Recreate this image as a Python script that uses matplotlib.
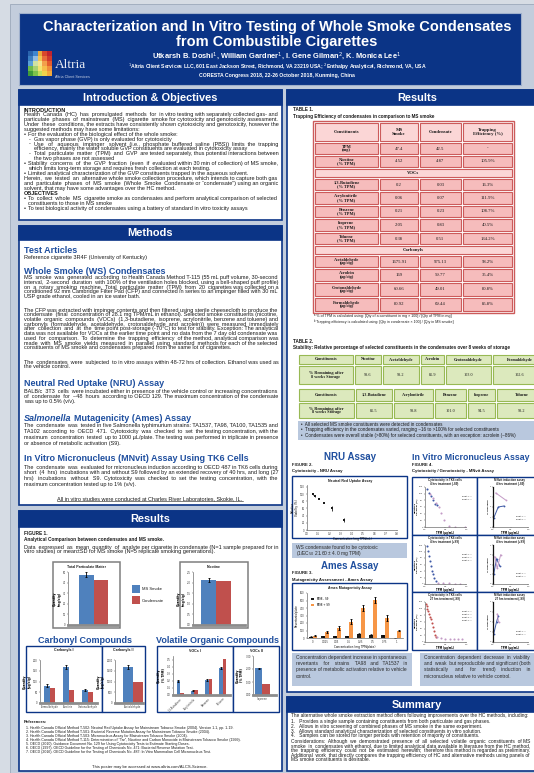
import numpy as np
import matplotlib
matplotlib.use("Agg")
import matplotlib.pyplot as plt
from matplotlib.patches import Rectangle
from matplotlib.font_manager import FontProperties

# ---------------- data ----------------
fig1_series = ["MS Smoke", "Condensate"]
tpm_mg = [47.4, 42.5]
tpm_sd = [2.2, 0.0]
nicotine_mg = [2.14, 2.07]
nicotine_sd = [0.09, 0.0]
nicotine_pct_tpm = [4.52, 4.87]

carb1_names = ["Formaldehyde", "Acrolein", "Crotonaldehyde"]
carb1_ms = [80.92, 169.0, 60.66]
carb1_ms_sd = [6.0, 9.0, 4.0]
carb1_cond = [69.44, 59.77, 49.01]
carb1_te = [85.8, 35.4, 80.8]

carb2_names = ["Acetaldehyde"]
carb2_ms = [1675.91]
carb2_ms_sd = [75.0]
carb2_cond = [975.13]
carb2_te = [58.2]

voc1_names = ["1,3-Butadiene", "Acrylonitrile", "Benzene", "Toluene"]
voc1_ms = [0.20, 0.06, 0.21, 0.38]
voc1_ms_sd = [0.01, 0.005, 0.01, 0.02]
voc1_cond = [0.03, 0.07, 0.23, 0.51]
voc1_te = [16.3, 111.9, 108.7, 134.2]

voc2_names = ["Isoprene"]
voc2_ms = [2.05]
voc2_ms_sd = [0.06]
voc2_cond = [0.83]
voc2_te = [40.5]

nicotine_te = 105.9

stab1_names = ["Nicotine", "Acetaldehyde", "Acrolein", "Crotonaldehyde", "Formaldehyde"]
stab1_vals = [98.6, 98.2, 85.9, 103.0, 102.6]
stab2_names = ["1,3-Butadiene", "Acrylonitrile", "Benzene", "Isoprene", "Toluene"]
stab2_vals = [85.5, 98.8, 101.0, 94.5, 98.2]

nru_conc = [0.05, 0.07, 0.11, 0.15, 0.22, 0.33]
nru_viab = [99, 95, 87, 76, 60, 27]
nru_sd = [3, 3, 2, 2, 8, 5]

ames_conc = ["0", "0.025", "0.05", "0.1", "0.25", "0.5", "0.75", "1"]
ames_minus_s9 = [18, 22, 24, 22, 60, 42, 38, 0]
ames_minus_sd = [4, 4, 5, 5, 10, 8, 8, 0]
ames_plus_s9 = [30, 78, 130, 220, 395, 505, 262, 100]
ames_plus_sd = [5, 10, 25, 30, 40, 40, 40, 12]

cyto1_e1_x = [0.05, 0.10, 0.14, 0.19, 0.25, 0.29]
cyto1_e1_y = [114, 103, 93, 81, 69, 65]
cyto1_e2_x = [0.12, 0.19, 0.27, 0.33, 0.39, 0.47, 0.58, 0.74, 0.97]
cyto1_e2_y = [99, 86, 71, 59, 41, 21, 3, 1, 0]
cyto2_e1_x = [0.06, 0.085, 0.10, 0.12, 0.15, 0.17, 0.19, 0.23, 0.27]
cyto2_e1_y = [117, 102, 86, 71, 55, 40, 30, 20, 9]
cyto2_e2_x = [0.31, 0.43, 0.58, 0.74, 0.85]
cyto2_e2_y = [3, 2, 2, 1, 1]
cyto3_e1_x = [0.02, 0.04, 0.06, 0.08, 0.10, 0.12, 0.14, 0.16, 0.19, 0.22, 0.25, 0.28]
cyto3_e1_y = [115, 108, 100, 92, 84, 76, 68, 58, 46, 34, 22, 14]
cyto3_e2_x = [0.30, 0.40, 0.50, 0.60, 0.70, 0.80, 0.90]
cyto3_e2_y = [15, 12, 10, 9, 10, 8, 9]

mn1_e1_x, mn1_e1_y = [0.02, 0.15, 0.31], [0.9, 2.0, 2.1]
mn1_e2_x, mn1_e2_y = [0.08, 0.36], [3.4, 2.7]
mn2_e1_x, mn2_e1_y = [0.02, 0.10, 0.20], [1.0, 2.6, 1.8]
mn2_e2_x, mn2_e2_y = [0.05, 0.12, 0.22], [2.8, 1.6, 3.0]
mn3_e1_x, mn3_e1_y = [0.02, 0.10, 0.15], [0.8, 2.0, 2.6]
mn3_e2_x, mn3_e2_y = [0.12, 0.16], [2.8, 2.0]

# ---------------- canvas helpers ----------------
W, H = 534, 773
fig = plt.figure(figsize=(W / 100, H / 100), dpi=100)
fig.patch.set_facecolor('#d6dce4')
R = fig.canvas.get_renderer()

SANS = ['Liberation Sans', 'DejaVu Sans']
SERIF = ['Liberation Serif', 'DejaVu Serif']
NAVY = '#0b3486'
HEAD = '#1f4f9f'
LIGHTBOX = '#b9c8de'
C_BLUE = '#4f81bd'
C_RED = '#c0504d'
C_ORANGE = '#f79646'
TXT = '#1a1a1a'
BODY = 3.95


def X(x):
    return x / W


def Y(y):
    return 1 - y / H


def box(x0, y0, x1, y1, fc='none', ec='none', lw=0.0, z=1):
    fig.add_artist(Rectangle((X(x0), Y(y1)), (x1 - x0) / W, (y1 - y0) / H,
                             transform=fig.transFigure, facecolor=fc,
                             edgecolor=ec, linewidth=lw, zorder=z))


def txt(x, y, s, size, color=TXT, bold=False, ha='left', va='baseline',
        family=SANS, italic=False, z=6, **kw):
    return fig.text(X(x), Y(y), s, fontsize=size, color=color,
                    fontweight='bold' if bold else 'normal',
                    fontstyle='italic' if italic else 'normal',
                    ha=ha, va=va, family=family, zorder=z, **kw)


def wpx(s, fp):
    return R.get_text_width_height_descent(s, fp, ismath=False)[0]


def para(x, y, width, s, size=BODY, lh=4.7, bold=False, color=TXT,
         justify=True, family=SANS):
    """Wrap text to a pixel width; justified lines are padded with spaces."""
    fp = FontProperties(family=family, size=size,
                        weight='bold' if bold else 'normal')
    sp = wpx('a a', fp) - wpx('aa', fp)
    lines, cur, cw = [], [], 0.0
    for w in s.split():
        ww = wpx(w, fp)
        add = ww if not cur else cw + sp + ww
        if cur and add > width:
            lines.append(cur)
            cur, cw = [w], ww
        else:
            cur.append(w)
            cw = add
    if cur:
        lines.append(cur)
    for i, ln in enumerate(lines):
        yy = y + i * lh
        if justify and i < len(lines) - 1 and len(ln) > 1:
            natural = wpx(' '.join(ln), fp)
            n = len(ln) - 1
            k = max(0, int(round((width - natural) / sp)))
            base, rem = divmod(k, n)
            parts = []
            for j, w in enumerate(ln):
                parts.append(w)
                if j < n:
                    parts.append(' ' * (1 + base + (1 if j < rem else 0)))
            line = ''.join(parts)
        else:
            line = ' '.join(ln)
        fig.text(X(x), Y(yy), line, fontproperties=fp, color=color,
                 va='baseline', zorder=6)
    return y + len(lines) * lh


def bullet(x, y, width, s, mark='\u2022', indent=4.5, **kw):
    txt(x, y, mark, kw.get('size', BODY), color=kw.get('color', TXT))
    return para(x + indent, y, width - indent, s, **kw)


def panel(x0, y0, x1, y1, title, hh=15, tsize=7.9):
    box(x0, y0, x1, y1, fc='white', ec=NAVY, lw=1.2, z=1)
    box(x0, y0, x1, y0 + hh, fc=NAVY, ec=NAVY, lw=1.2, z=2)
    txt((x0 + min(x1, 547)) / 2, y0 + hh / 2 + 0.5, title, tsize,
        color='white', bold=True, ha='center', va='center')


def axes_px(x0, y0, x1, y1):
    ax = fig.add_axes([X(x0), Y(y1), (x1 - x0) / W, (y1 - y0) / H])
    ax.set_zorder(20)
    ax.set_facecolor('none')
    for s in ('top', 'right'):
        ax.spines[s].set_visible(False)
    ax.spines['left'].set_color('#6f6f6f')
    ax.spines['left'].set_linewidth(0.5)
    ax.spines['bottom'].set_color('#6f6f6f')
    ax.spines['bottom'].set_linewidth(0.5)
    ax.tick_params(labelsize=1.8, length=1.0, width=0.3, pad=0.6,
                   colors='#333333')
    return ax


# ---------------- background & banner ----------------
box(10, 4, 560, 800, fc='#c3cddc', ec='#9ca8ba', lw=0.6, z=0)
box(19, 13, 521, 85, fc=NAVY, ec='#9fb0cc', lw=0.8, z=1)

txt(277, 30.5, "Characterization and In Vitro Testing of Whole Smoke Condensates",
    10.5, color='white', bold=True, ha='center')
txt(277, 46, "from Combustible Cigarettes", 10.5, color='white', bold=True,
    ha='center')
txt(277, 58.5, "Utkarsh B. Doshi$^{1}$, William Gardner$^{1}$, I. Gene Gilman$^{2}$, K. Monica Lee$^{1}$",
    5.4, color='white', bold=True, ha='center')
txt(277, 69, "$^{1}$Altria Client Services LLC, 601 East Jackson Street, Richmond, VA 23219 USA; "
    "$^{2}$Enthalpy Analytical, Richmond, VA, USA", 3.7, color='white',
    bold=True, ha='center')
txt(277, 77.5, "CORESTA Congress 2018, 22-26 October 2018, Kunming, China", 3.7,
    color='white', bold=True, ha='center')

# Altria mosaic mark
mosaic = [['#2a63ad', '#3f86cf', '#e9a83d', '#d9472c', '#bf2430'],
          ['#3a7fc3', '#92bbe2', '#f2c552', '#e96d3b', '#cf3a2c'],
          ['#59a0d8', '#cfe2a2', '#f6e48e', '#f29f4b', '#e35c2d'],
          ['#6dbb4a', '#a9d172', '#f3e46e', '#f6bc4b', '#ef8d3b'],
          ['#3f9a3a', '#7dc14b', '#c5dd5b', '#f1d24b', '#f2aa3b']]
for r, row in enumerate(mosaic):
    for c, col in enumerate(row):
        box(28 + c * 4.8, 51 + r * 5.0, 28 + (c + 1) * 4.8, 51 + (r + 1) * 5.0,
            fc=col, z=3)
txt(55, 68, "Altria", 9.6, color='#e8ecf4', family=SERIF)
txt(55, 77.5, "Altria Client Services", 2.7, color='#c9d2e4')

# ---------------- left column ----------------
LX0, LX1 = 19, 282
panel(LX0, 90, LX1, 220, "Introduction & Objectives")
tx, tw = 24, 254
LH = 4.75
GAP = 0.8
y = 111.5
txt(tx, y, "INTRODUCTION", BODY, bold=True)
y = para(tx, y + LH, tw,
         "Health Canada (HC) has promulgated methods for in vitro testing with separately "
         "collected gas- and particulate phases of mainstream (MS) cigarette smoke for "
         "cytotoxicity and genotoxicity assessment. Under these conditions, the extracts have "
         "consistently shown cytotoxicity and genotoxicity, however the suggested methods may "
         "have some limitations:", lh=LH)
y = bullet(tx, y + GAP, tw, "For the evaluation of the biological effect of the whole smoke:", lh=LH)
y = bullet(tx + 5, y, tw - 5, "Gas vapor phase (GVP) is only evaluated for cytotoxicity",
           mark='-', lh=LH)
y = bullet(tx + 5, y, tw - 5,
           "Use of aqueous impinger solvent (i.e., phosphate buffered saline (PBS)) limits the trapping "
           "efficiency, mainly the water soluble GVP constituents are evaluated in cytotoxicity assay",
           mark='-', lh=LH)
y = bullet(tx + 5, y, tw - 5,
           "Total particulate matter (TPM) and GVP are tested separately, thus potential interactions "
           "between the two phases are not assessed",
           mark='-', lh=LH)
y = bullet(tx, y + GAP, tw,
           "Stability concerns of the GVP fraction (even if evaluated within 30 min of collection) of MS "
           "smoke, which limits long-term storage and requires fresh collection at each testing.", lh=LH)
y = bullet(tx, y, tw,
           "Limited analytical characterization of the GVP constituents trapped in the aqueous solvent.", lh=LH)
y = para(tx, y + GAP, tw,
         "Herein, we tested an alternative whole smoke collection procedure, which intends to capture "
         "both gas and particulate phases of MS smoke (Whole Smoke Condensate or \u201ccondensate\u201d) "
         "using an organic solvent, that may have some advantages over the HC method.", lh=LH)
txt(tx, y + GAP, "OBJECTIVES", BODY, bold=True)
y = bullet(tx, y + GAP + LH, tw,
           "To collect whole MS cigarette smoke as condensates and perform analytical comparison of "
           "selected constituents to those in MS smoke", lh=LH)
bullet(tx, y, tw, "To test biological activity of condensates using a battery of standard in vitro toxicity assays",
       lh=LH)

panel(LX0, 226, LX1, 505, "Methods", hh=14)
txt(tx, 253, "Test Articles", 6.5, color=HEAD, bold=True)
txt(tx, 258.5, "Reference cigarette 3R4F (University of Kentucky)", BODY)
txt(tx, 273.5, "Whole Smoke (WS) Condensates", 6.5, color=HEAD, bold=True)
para(tx, 279, tw,
     "MS smoke was generated according to Health Canada Method T-115 (55 mL puff volume, 30-second "
     "interval, 2-second duration with 100% of the ventilation holes blocked, using a bell-shaped puff "
     "profile) on a rotary smoking machine. Total particulate matter (TPM) from 20 cigarettes was "
     "collected on a conditioned 92 mm Cambridge Filter Pad (CFP) and connected in series to an impinger "
     "filled with 30 mL USP grade ethanol, cooled in an ice water bath.", lh=4.75)
para(tx, 311.5, tw,
     "The CFP was extracted with impinger contents and then filtered using sterile cheesecloth to produce "
     "the condensate (final concentration of 28.1 mg TPM/mL in ethanol). Selected smoke constituents "
     "(nicotine, volatile organic compounds (VOCs) (1,3-butadiene, isoprene, acrylonitrile, benzene and "
     "toluene) and carbonyls (formaldehyde, acetaldehyde, crotonaldehyde and acrolein)) were measured "
     "immediately after collection and at the time point post-storage (-70\u00b0C) to test for "
     "stability. Exception: The analytical data was not available for VOCs at the earlier time point "
     "and no data from the 7 day old condensate was used for comparison. To determine the trapping "
     "efficiency of the method, analytical comparison was made with MS smoke yields measured in parallel "
     "using standard methods for each of the selected constituents of MS smoke and condensates "
     "prepared from the same lot of cigarettes.", lh=4.75)
para(tx, 363.5, tw,
     "The condensates were subjected to in vitro assays within 48-72 hrs of collection. Ethanol was used "
     "as the vehicle control.", lh=4.75)
txt(tx, 386.5, "Neutral Red Uptake (NRU) Assay", 6.5, color=HEAD, bold=True)
para(tx, 392.5, tw,
     "BALB/c 3T3 cells were incubated either in presence of the vehicle control or increasing "
     "concentrations of condensate for ~48 hours according to OECD 129. The maximum concentration of "
     "the condensate was up to 0.5% (v/v).", lh=5.4)
fig.text(X(tx), Y(421), "Salmonella", fontsize=6.5, color=HEAD, fontweight='bold',
         fontstyle='italic', family=SANS, va='baseline', zorder=6)
fp_h = FontProperties(family=SANS, size=6.5, weight='bold', style='italic')
txt(tx + wpx("Salmonella ", fp_h), 421, "Mutagenicity (Ames) Assay", 6.5, color=HEAD, bold=True)
para(tx, 427, tw,
     "The condensate was tested in five Salmonella typhimurium strains: TA1537, TA98, TA100, TA1535 and "
     "TA102 according to OECD 471. Cytotoxicity was checked to set the testing concentration, with the "
     "maximum concentration tested up to 1000 \u00b5L/plate. The testing was performed in triplicate "
     "in presence or absence of metabolic activation (S9).", lh=6.0)
txt(tx, 461.5, "In Vitro Micronucleus (MNvit) Assay Using TK6 Cells", 6.5, color=HEAD, bold=True)
para(tx, 468.5, tw,
     "The condensate was evaluated for micronucleus induction according to OECD 487 in TK6 cells "
     "during short (4 hrs) incubations with and without S9 followed by an extended recovery of 40 hrs, "
     "and long (27 hrs) incubations without S9. Cytotoxicity was checked to set the testing "
     "concentration, with the maximum concentration tested up to 1% (v/v).", lh=6.0)
txt(150, 500, "All in vitro studies were conducted at Charles River Laboratories, Skokie, IL.",
    BODY, ha='center')
fig.add_artist(plt.Line2D([X(57), X(243)], [Y(501.2), Y(501.2)], color=TXT, lw=0.4,
                          transform=fig.transFigure, zorder=6))

panel(LX0, 511, LX1, 771, "Results", hh=16)
txt(tx, 535, "FIGURE 1.", 3.4, bold=True)
txt(tx, 541, "Analytical Comparison between condensates and MS smoke.", 3.4, bold=True)
para(tx, 548.5, tw,
     "Data expressed as mean quantity of analyte per cigarette in condensate (N=1 sample prepared for in "
     "vitro studies) or mean\u00b1SD for MS smoke (N=5 replicate smoking generations).", lh=4.6)


def simple_bars(ax, ms, cond, ms_sd, xlim, width):
    idx = np.arange(len(ms))
    ax.bar(idx - width / 2, ms, width=width, color=C_BLUE, zorder=2,
           yerr=ms_sd, error_kw=dict(elinewidth=0.6, capsize=0.9, capthick=0.6,
                                    ecolor='black'))
    ax.bar(idx + width / 2, cond, width=width, color=C_RED, zorder=2)
    ax.set_xlim(*xlim)
    ax.spines['bottom'].set_color('#8c8c8c')
    ax.spines['bottom'].set_linewidth(2.0)


# figure 1 : TPM and nicotine
box(53, 562, 120, 628, fc='white', ec='#7f7f7f', lw=1.1, z=2)
txt(86.5, 567.5, "Total Particulate Matter", 2.5, bold=True, ha='center')
ax = axes_px(68, 572, 118, 625)
simple_bars(ax, [tpm_mg[0]], [tpm_mg[1]], [tpm_sd[0]], (-0.51, 0.49), 0.29)
ax.set_ylim(0, 50)
ax.set_yticks(np.arange(0, 51, 10))
ax.set_xticks([])
ax.set_ylabel("Quantity\n(mg/cig)", fontsize=2.2, labelpad=1.0, fontweight='bold')

box(180, 562, 248, 628, fc='white', ec='#7f7f7f', lw=1.1, z=2)
txt(214, 567.5, "Nicotine", 2.5, bold=True, ha='center')
ax = axes_px(193, 572, 245, 625)
simple_bars(ax, [nicotine_mg[0]], [nicotine_mg[1]], [nicotine_sd[0]], (-0.45, 0.55), 0.29)
ax.set_ylim(0, 2.5)
ax.set_yticks(np.arange(0, 2.51, 0.5))
ax.set_xticks([])
ax.set_ylabel("Quantity\n(mg/cig)", fontsize=2.2, labelpad=1.0, fontweight='bold')

box(132, 585, 140, 593, fc=C_BLUE, z=3)
box(132, 596, 140, 604, fc=C_RED, z=3)
txt(142, 590.5, fig1_series[0], 3.0)
txt(142, 601.5, fig1_series[1], 3.0)

# carbonyl and VOC panels
txt(85, 643, "Carbonyl Compounds", 6.5, color=HEAD, bold=True, ha='center')
txt(217, 643, "Volatile Organic Compounds", 6.5, color=HEAD, bold=True, ha='center')
for (a, b) in [(26, 102), (102, 145), (157, 233), (233, 279)]:
    box(a, 646, b, 712, fc='white', ec=NAVY, lw=1.0, z=2)

txt(64, 651.5, "Carbonyls I", 2.6, bold=True, ha='center')
ax = axes_px(40, 660, 97, 703)
simple_bars(ax, carb1_ms, carb1_cond, carb1_ms_sd, (-0.5, 2.5), 0.3)
ax.set_ylim(0, 200)
ax.set_yticks(np.arange(0, 201, 50))
ax.set_xticks(range(3))
ax.set_xticklabels(carb1_names, fontsize=1.8)
ax.set_ylabel("Quantity\n(\u00b5g/cig)", fontsize=2.2, labelpad=1.0, fontweight='bold')

txt(123.5, 651.5, "Carbonyls II", 2.6, bold=True, ha='center')
ax = axes_px(115, 660, 143, 703)
simple_bars(ax, carb2_ms, carb2_cond, carb2_ms_sd, (-0.64, 0.36), 0.36)
ax.set_ylim(0, 2000)
ax.set_yticks(np.arange(0, 2001, 500))
ax.set_xticks([0])
ax.set_xticklabels(carb2_names, fontsize=1.8)
ax.set_ylabel("Quantity\n(\u00b5g/cig)", fontsize=2.2, labelpad=1.0, fontweight='bold')

txt(195, 651.5, "VOCs I", 2.6, bold=True, ha='center')
ax = axes_px(173, 656, 230, 695)
simple_bars(ax, voc1_ms, voc1_cond, voc1_ms_sd, (-0.5, 3.5), 0.24)
ax.set_ylim(0, 0.55)
ax.set_yticks(np.arange(0, 0.51, 0.1))
ax.set_yticklabels([f"{v:.1f}" for v in np.arange(0, 0.51, 0.1)])
ax.set_xticks(range(4))
ax.set_xticklabels(voc1_names, fontsize=1.8, rotation=45, ha='right',
                   rotation_mode='anchor')
ax.set_ylabel("Quantity\n(% TPM)", fontsize=2.2, labelpad=1.0, fontweight='bold')

txt(256, 651.5, "VOCs II", 2.6, bold=True, ha='center')
ax = axes_px(253, 656, 276, 695)
simple_bars(ax, voc2_ms, voc2_cond, voc2_ms_sd, (-0.4, 0.6), 0.32)
ax.set_ylim(0, 3)
ax.set_yticks([0, 1, 2, 3])
ax.set_yticklabels(["0.00", "1.00", "2.00", "3.00"])
ax.set_xticks([0])
ax.set_xticklabels(voc2_names, fontsize=1.8)
ax.set_ylabel("Quantity\n(% TPM)", fontsize=2.2, labelpad=1.0, fontweight='bold')

# references
txt(tx, 723, "References:", 3.0, bold=True)
refs = [
    "1. Health Canada Official Method T-502: Neutral Red Uptake Assay for Mainstream Tobacco Smoke (2004). Version 1.1, pp. 1-19.",
    "2. Health Canada Official Method T-501: Bacterial Reverse Mutation Assay for Mainstream Tobacco Smoke (2004).",
    "3. Health Canada Official Method T-503: Micronucleus Assay for Mainstream Tobacco Smoke (2004).",
    "4. Health Canada Official Method T-115: Determination of \u201cTar\u201d, Nicotine and Carbon Monoxide in Mainstream Tobacco Smoke (1999).",
    "5. OECD (2010). Guidance Document No. 129 for Using Cytotoxicity Tests to Estimate Starting Doses.",
    "6. OECD (1997). OECD Guideline for the Testing of Chemicals No. 471: Bacterial Reverse Mutation Test.",
    "7. OECD (2016). OECD Guideline for the Testing of Chemicals No. 487: In Vitro Mammalian Cell Micronucleus Test.",
]
for i, r in enumerate(refs):
    txt(tx + 2, 728.5 + i * 4.0, r, 2.6)
txt(150, 768, "This poster may be accessed at www.altria.com/ALCS-Science.", 3.0, ha='center')

# ---------------- right column ----------------
RX0, RX1 = 287, 547
panel(RX0, 90, RX1, 692, "Results")
rx = 293
txt(rx, 111, "TABLE 1.", 3.3, bold=True)
txt(rx, 118, "Trapping Efficiency of condensates in comparison to MS smoke", 3.3, bold=True)

T1_HDR = '#fbd6d6'
T1_BODY = '#f6bcbc'
T1_EDGE = '#cc5b5b'
cols = [314, 379, 419, 462, 513]


def t1_cell(x0, y0, x1, y1, fc):
    box(x0 + 0.6, y0 + 0.6, x1 - 0.6, y1 - 0.6, fc=fc, ec=T1_EDGE, lw=0.8, z=3)


def ctxt(x, y, s, size=3.4, bold=False, family=SERIF, color=TXT):
    txt(x, y, s, size, bold=bold, ha='center', va='center', family=family,
        color=color, linespacing=0.95)


box(cols[0] - 1, 121, cols[-1] + 1, 313, fc='none', ec=T1_EDGE, lw=1.0, z=4)
hdr = ["Constituents", "MS\nSmoke", "Condensate", "Trapping\nEfficiency (%)"]
for c in range(4):
    t1_cell(cols[c], 122, cols[c + 1], 142, T1_HDR)
    ctxt((cols[c] + cols[c + 1]) / 2, 132, hdr[c], bold=True)

t1_rows = [
    ("TPM\n(mg)", tpm_mg[0], tpm_mg[1], "-", 142, 155),
    ("Nicotine\n(% TPM)", nicotine_pct_tpm[0], nicotine_pct_tpm[1], f"{nicotine_te}%", 155, 168),
    ("VOCs", None, None, None, 168, 178),
    ("1,3-Butadiene\n(% TPM)", voc1_ms[0], voc1_cond[0], f"{voc1_te[0]}%", 178, 191),
    ("Acrylonitrile\n(% TPM)", voc1_ms[1], voc1_cond[1], f"{voc1_te[1]}%", 191, 205),
    ("Benzene\n(% TPM)", voc1_ms[2], voc1_cond[2], f"{voc1_te[2]}%", 205, 218),
    ("Isoprene\n(% TPM)", voc2_ms[0], voc2_cond[0], f"{voc2_te[0]}%", 218, 232),
    ("Toluene\n(% TPM)", voc1_ms[3], voc1_cond[3], f"{voc1_te[3]}%", 232, 245),
    ("Carbonyls", None, None, None, 245, 255),
    ("Acetaldehyde\n(\u00b5g/cig)", carb2_ms[0], carb2_cond[0], f"{carb2_te[0]}%", 255, 268),
    ("Acrolein\n(\u00b5g/cig)", carb1_ms[1], carb1_cond[1], f"{carb1_te[1]}%", 268, 282),
    ("Crotonaldehyde\n(\u00b5g/cig)", carb1_ms[2], carb1_cond[2], f"{carb1_te[2]}%", 282, 297),
    ("Formaldehyde\n(\u00b5g/cig)", carb1_ms[0], carb1_cond[0], f"{carb1_te[0]}%", 297, 312),
]
for name, ms, cond, te, ya, yb in t1_rows:
    ym = (ya + yb) / 2
    if ms is None:
        t1_cell(cols[0], ya, cols[-1], yb, T1_HDR)
        ctxt((cols[0] + cols[-1]) / 2, ym, name, bold=True)
        continue
    for c in range(4):
        t1_cell(cols[c], ya, cols[c + 1], yb, T1_BODY)
    ctxt((cols[0] + cols[1]) / 2, ym, name, bold=True, size=3.2)
    ctxt((cols[1] + cols[2]) / 2, ym, f"{ms:g}")
    ctxt((cols[2] + cols[3]) / 2, ym, f"{cond:g}")
    ctxt((cols[3] + cols[4]) / 2, ym, te)

txt(314, 317.5, "\u1d43 % of TPM is calculated using: [Qty of a constituent in mg \u00d7 100] / [Qty of TPM in mg]", 2.6)
txt(314, 322.5, "\u1d47 Trapping efficiency is calculated using: [Qty in condensate \u00d7 100] / [Qty in MS smoke]", 2.6)

txt(rx, 343, "TABLE 2.", 3.3, bold=True)
txt(rx, 349, "Stability: Relative percentage of selected constituents in the condensates over 8 weeks of storage",
    3.3, bold=True)

T2_FILL = '#dce9bd'
T2_EDGE = '#98b954'


def t2_cell(x0, y0, x1, y1):
    box(x0 + 0.8, y0 + 0.8, x1 - 0.8, y1 - 0.8, fc=T2_FILL, ec=T2_EDGE, lw=0.8, z=3)


def stab_table(cols2, names, vals, y0, y1, y2):
    for c in range(len(cols2) - 1):
        t2_cell(cols2[c], y0, cols2[c + 1], y1)
        t2_cell(cols2[c], y1, cols2[c + 1], y2)
    ctxt((cols2[0] + cols2[1]) / 2, (y0 + y1) / 2, "Constituents", bold=True, size=3.1)
    ctxt((cols2[0] + cols2[1]) / 2, (y1 + y2) / 2, "% Remaining after\n8 weeks Storage",
         bold=True, size=3.1)
    for c, (n, v) in enumerate(zip(names, vals)):
        xm = (cols2[c + 1] + cols2[c + 2]) / 2
        ctxt(xm, (y0 + y1) / 2, n, bold=True, size=3.1)
        ctxt(xm, (y1 + y2) / 2, f"{v:.1f}", size=3.1)


stab_table([298, 354, 382, 420, 445, 492, 547], stab1_names, stab1_vals, 354, 365, 385)
stab_table([298, 355, 393, 434, 467, 496, 547], stab2_names, stab2_vals, 388, 402, 419)

box(298, 421, 560, 440, fc=LIGHTBOX, z=2)
notes = ["All selected MS smoke constituents were detected in condensates",
         "Trapping efficiency in the condensates varied, ranging ~16 to >100% for selected constituents",
         "Condensates were overall stable (>80%) for selected constituents, with an exception: acrolein (~86%)"]
for i, n in enumerate(notes):
    txt(301, 425.5 + i * 6, "\u2022  " + n, 3.3)

# NRU
txt(350, 459.5, "NRU Assay", 7.0, color=HEAD, bold=True, ha='center')
txt(292, 465.5, "FIGURE 2.", 3.1, bold=True)
txt(292, 472, "Cytotoxicity - NRU Assay", 3.1, bold=True)
box(292, 476, 407, 538, fc='white', ec=NAVY, lw=1.0, z=2)
txt(350, 482, "Neutral Red Uptake Assay", 2.5, bold=True, ha='center')
ax = axes_px(307, 485, 397, 530)
ax.errorbar(nru_conc, nru_viab, yerr=nru_sd, fmt='s', ms=1.5, color='#1a1a1a',
            elinewidth=0.6, capsize=0.7, capthick=0.5, mew=0)
ax.set_xlim(0, 0.8)
ax.set_ylim(0, 125)
ax.set_xticks(np.arange(0, 0.81, 0.1))
ax.set_xticklabels([f"{v:.1f}" for v in np.arange(0, 0.81, 0.1)])
ax.set_yticks(np.arange(0, 121, 20))
ax.set_xlabel("Concentration (mg TPM/mL)", fontsize=2.0, labelpad=0.8)
ax.set_ylabel("Relative\nViability (%)", fontsize=2.0, labelpad=0.8)

box(292, 543, 407, 558, fc=LIGHTBOX, z=2)
txt(296, 548.5, "WS condensate found to be cytotoxic", 3.5, color='#2b2b2b')
txt(296, 555, "(1/EC$_{50}$ 21.60 \u00b1 4.0 mg TPM)", 3.5, color='#2b2b2b')

# Ames
txt(350, 569, "Ames Assay", 7.0, color=HEAD, bold=True, ha='center')
txt(292, 574.5, "FIGURE 3.", 3.1, bold=True)
txt(292, 580.5, "Mutagenicity Assessment - Ames Assay", 3.1, bold=True)
box(292, 583, 407, 650, fc='white', ec=NAVY, lw=1.0, z=2)
txt(350, 589, "Ames Mutagenicity Assay", 2.5, bold=True, ha='center')
ax = axes_px(307, 593, 403, 638)
ai = np.arange(len(ames_conc))
ax.bar(ai - 0.17, ames_minus_s9, width=0.3, color='#1a1a1a', yerr=ames_minus_sd,
       error_kw=dict(elinewidth=0.5, capsize=0.6, capthick=0.4), label="TA98 - S9")
ax.bar(ai + 0.17, ames_plus_s9, width=0.3, color=C_ORANGE, yerr=ames_plus_sd,
       error_kw=dict(elinewidth=0.7, capsize=0.8, capthick=0.6), label="TA98 + S9")
ax.set_xlim(-0.5, len(ames_conc) - 0.5)
ax.set_ylim(0, 600)
ax.set_yticks(np.arange(0, 601, 100))
ax.set_xticks(ai)
ax.set_xticklabels(ames_conc)
ax.set_xlabel("Concentration (mg TPM/plate)", fontsize=2.0, labelpad=0.8)
ax.set_ylabel("Revertants/plate", fontsize=2.0, labelpad=0.8)
ax.legend(loc='upper left', fontsize=1.9, frameon=False, handlelength=1.0,
          handleheight=0.7, borderaxespad=1.2)

box(292, 653, 412, 686, fc=LIGHTBOX, z=2)
para(296, 659, 111,
     "Concentration dependent increase in spontaneous revertants for strains TA98 and TA1537 in presence "
     "of metabolic activation relative to vehicle control.", size=3.5, lh=6.2, color='#2b2b2b')

# MNvit
txt(412, 459.5, "In Vitro Micronucleus Assay", 6.3, color=HEAD, bold=True)
txt(412, 465.5, "FIGURE 4.", 3.1, bold=True)
txt(412, 472, "Cytotoxicity / Genotoxicity - MNvit Assay", 3.1, bold=True)

rows = [(477, 535), (535, 592), (592, 650)]
for (ya, yb) in rows:
    box(412, ya, 477, yb, fc='white', ec=NAVY, lw=1.0, z=2)
    box(477, ya, 560, yb, fc='white', ec=NAVY, lw=1.0, z=2)

C_MN1 = '#3f5aa6'
C_MN2 = '#c39ac6'
cyto_sets = [
    ("Cytotoxicity in TK6 cells\n4 hrs treatment (-S9)",
     [(cyto1_e1_x, cyto1_e1_y, C_MN1), (cyto1_e2_x, cyto1_e2_y, C_MN2)], ["Expt 1", "Expt 2"]),
    ("Cytotoxicity in TK6 cells\n4 hrs treatment (+S9)",
     [(cyto2_e1_x, cyto2_e1_y, C_MN1), (cyto2_e2_x, cyto2_e2_y, C_MN2)], ["Expt 1", "Expt 2", "Expt 3"]),
    ("Cytotoxicity in TK6 cells\n27 hrs treatment (-S9)",
     [(cyto3_e1_x, cyto3_e1_y, C_RED), (cyto3_e2_x, cyto3_e2_y, C_MN2)], ["Expt 1", "Expt 2", "Expt 3", "Expt 4"]),
]
mn_sets = [
    ("MNvit induction assay\n4 hrs treatment (-S9)",
     [(mn1_e1_x, mn1_e1_y, C_MN1), (mn1_e2_x, mn1_e2_y, C_MN2)]),
    ("MNvit induction assay\n4 hrs treatment (+S9)",
     [(mn2_e1_x, mn2_e1_y, C_MN1), (mn2_e2_x, mn2_e2_y, C_MN2)]),
    ("MNvit induction assay\n27 hrs treatment (-S9)",
     [(mn3_e1_x, mn3_e1_y, C_MN1), (mn3_e2_x, mn3_e2_y, C_MN2)]),
]
for k, (ya, yb) in enumerate(rows):
    title, series, labels = cyto_sets[k]
    txt(444.5, ya + 5, title, 2.1, bold=True, ha='center', va='center', linespacing=1.1)
    ax = axes_px(425, ya + 10, 466, yb - 8)
    for xs, ys, col in series:
        ax.plot(xs, ys, 'o', ms=1.5, color=col, mew=0)
    ax.set_xlim(0, 1)
    ax.set_ylim(0, 120)
    ax.set_xticks([0, 0.5, 1.0])
    ax.set_yticks(np.arange(0, 121, 20))
    ax.tick_params(labelsize=1.5)
    ax.set_xlabel("TPM (\u00b5g/mL)", fontsize=1.8, labelpad=0.5, fontweight='bold')
    ax.set_ylabel("Relative\nSurvival (%)", fontsize=1.7, labelpad=0.5, fontweight='bold')
    for j, lab in enumerate(labels):
        txt(462, ya + 20 + j * 3.0, lab + " \u2014", 1.7)

    title, series = mn_sets[k]
    txt(510, ya + 5, title, 2.1, bold=True, ha='center', va='center', linespacing=1.1)
    ax = axes_px(493, ya + 10, 528, yb - 8)
    for xs, ys, col in series:
        ax.plot(xs, ys, '-o', ms=1.3, lw=0.7, color=col, mew=0)
    ax.set_xlim(0, 1)
    ax.set_ylim(0, 4)
    ax.set_xticks([0, 0.5, 1.0])
    ax.set_yticks([0, 1, 2, 3, 4])
    ax.tick_params(labelsize=1.5)
    ax.spines['left'].set_color('#111111')
    ax.spines['left'].set_linewidth(0.9)
    ax.set_xlabel("TPM (\u00b5g/mL)", fontsize=1.8, labelpad=0.5, fontweight='bold')
    ax.set_ylabel("% MN cells", fontsize=1.7, labelpad=0.5, fontweight='bold')
    txt(516, yb - 18, "Expt 1 \u2014", 1.7)
    txt(516, yb - 15, "Expt 2 \u2014", 1.7)

box(420, 653, 560, 686, fc=LIGHTBOX, z=2)
para(424, 659, 106,
     "Concentration dependent decrease in viability and weak but reproducible and significant (both "
     "statistically and for trend) induction in micronucleus relative to vehicle control.",
     size=3.5, lh=6.2, color='#2b2b2b')

# Summary
panel(RX0, 697, RX1, 771, "Summary", hh=15)
sx, sw = 291, 239
txt(sx, 717, "The alternative whole smoke extraction method offers following improvements over the HC methods, including:", 3.4)
items = ["Provides a single sample containing constituents from both particulate and gas phases.",
         "Allows in vitro screening of combined phases of MS smoke in the same experiment.",
         "Allows standard analytical characterization of selected constituents in vitro solution.",
         "Samples can be stored for longer periods with retention of majority of constituents."]
for i, it in enumerate(items):
    txt(sx, 723 + i * 4.8, f"{i + 1}.   {it}", 3.5)
para(sx, 743, sw,
     "Considerations: Although we demonstrated presence of all selected volatile organic constituents of "
     "MS smoke in condensates with ethanol, due to limited analytical data available in literature from "
     "the HC method, the trapping efficiency could not be estimated herewith; therefore this method is "
     "regarded as preliminary. Additional work that directly compares the trapping efficiency of HC and "
     "alternative methods using panels of MS smoke constituents is desirable.", size=3.5, lh=4.6)

fig.savefig("out.png", dpi=100, facecolor=fig.get_facecolor())
